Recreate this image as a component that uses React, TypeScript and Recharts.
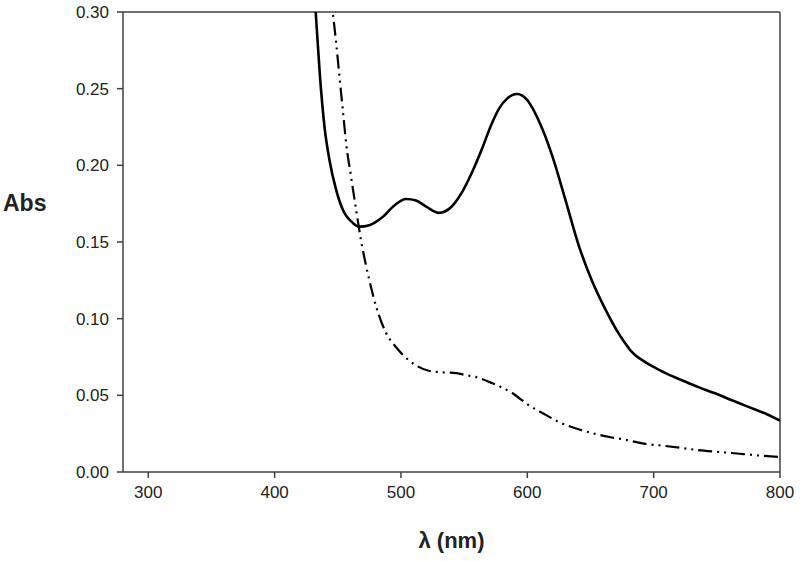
import { LineChart, Line, XAxis, YAxis, ReferenceLine } from 'recharts';

// solid trace: wavelength (nm) and absorbance
const solidNm = [429, 432.5, 435.9, 439.5, 443.4, 448.7, 454, 462, 467, 475, 485, 495, 504, 512, 520, 530, 540, 548, 556, 564, 572, 578, 584, 588, 592, 596, 600, 604, 612, 620, 630, 641, 651, 662, 672, 677, 682, 686, 690, 695, 700, 709, 722, 735, 748, 762, 775, 790, 800];
const solidAbs = [0.34, 0.3, 0.258, 0.225, 0.2035, 0.184, 0.171, 0.1624, 0.16, 0.161, 0.166, 0.174, 0.178, 0.177, 0.173, 0.169, 0.173, 0.182, 0.195, 0.2105, 0.2275, 0.2375, 0.2435, 0.2458, 0.2465, 0.2455, 0.2425, 0.2375, 0.2235, 0.2055, 0.178, 0.147, 0.125, 0.1057, 0.0907, 0.0845, 0.079, 0.0758, 0.0735, 0.0708, 0.0685, 0.0646, 0.06, 0.0555, 0.0515, 0.0468, 0.0425, 0.0375, 0.0335];

// dash-dot-dot trace
const dashNm = [444, 446, 448.7, 451.3, 454, 456.6, 460.5, 464.5, 466.6, 468.4, 472, 475, 480.5, 488, 496, 505, 513, 522, 533, 544, 552, 559, 572, 588, 601, 613, 625, 638, 651, 665, 678, 690, 709, 722, 735, 748, 762, 780, 800];
const dashAbs = [0.315, 0.3, 0.28, 0.258, 0.236, 0.2145, 0.1926, 0.171, 0.16, 0.151, 0.136, 0.125, 0.1076, 0.091, 0.0815, 0.0737, 0.069, 0.066, 0.065, 0.0645, 0.063, 0.062, 0.058, 0.0515, 0.0437, 0.038, 0.0326, 0.0285, 0.0254, 0.0228, 0.021, 0.0188, 0.017, 0.0157, 0.0143, 0.0133, 0.0124, 0.011, 0.0098];

const xTicks = [300, 400, 500, 600, 700, 800];
const yTicks = [0, 0.05, 0.1, 0.15, 0.2, 0.25, 0.3];

const solidData = solidNm.map((nm, i) => ({ nm, abs: solidAbs[i] }));
const dashData = dashNm.map((nm, i) => ({ nm, abs: dashAbs[i] }));

const axisColor = '#404040';
const textColor = '#222';
const font = 'Arial, "Liberation Sans", sans-serif';

export default function App() {
  return (
    <div style={{ position: 'absolute', left: 0, top: 0, background: '#fff' }}>
      <LineChart width={800} height={561} margin={{ top: 12, right: 20, left: 0, bottom: 0 }}>
        <XAxis
          type="number"
          dataKey="nm"
          domain={[280, 800]}
          ticks={xTicks}
          allowDataOverflow
          stroke={axisColor}
          strokeWidth={1.5}
          tickSize={6}
          tickMargin={8}
          height={89}
          tick={{ fill: textColor, fontSize: 17, fontFamily: font }}
          label={{ value: 'λ (nm)', position: 'insideBottom', offset: 13, fill: textColor, fontSize: 22, fontWeight: 'bold', fontFamily: font }}
        />
        <YAxis
          type="number"
          domain={[0, 0.3]}
          ticks={yTicks}
          allowDataOverflow
          width={123}
          stroke={axisColor}
          strokeWidth={1.5}
          tickSize={6}
          tickMargin={8}
          tickFormatter={(v: number) => v.toFixed(2)}
          tick={{ fill: textColor, fontSize: 17, fontFamily: font }}
          label={{
            content: () => (
              <text x={3} y={211} fill={textColor} fontSize={23} fontWeight="bold" fontFamily={font}>Abs</text>
            ),
          }}
        />
        <ReferenceLine y={0.3} stroke={axisColor} strokeWidth={1.5} ifOverflow="visible" />
        <ReferenceLine x={800} stroke={axisColor} strokeWidth={1.5} ifOverflow="visible" />
        <Line
          data={solidData}
          dataKey="abs"
          type="monotone"
          stroke="#000"
          strokeWidth={2.6}
          dot={false}
          isAnimationActive={false}
        />
        <Line
          data={dashData}
          dataKey="abs"
          type="monotone"
          stroke="#000"
          strokeWidth={2.2}
          strokeDasharray="14 5 2 5 2 5"
          dot={false}
          isAnimationActive={false}
        />
      </LineChart>
    </div>
  );
}
